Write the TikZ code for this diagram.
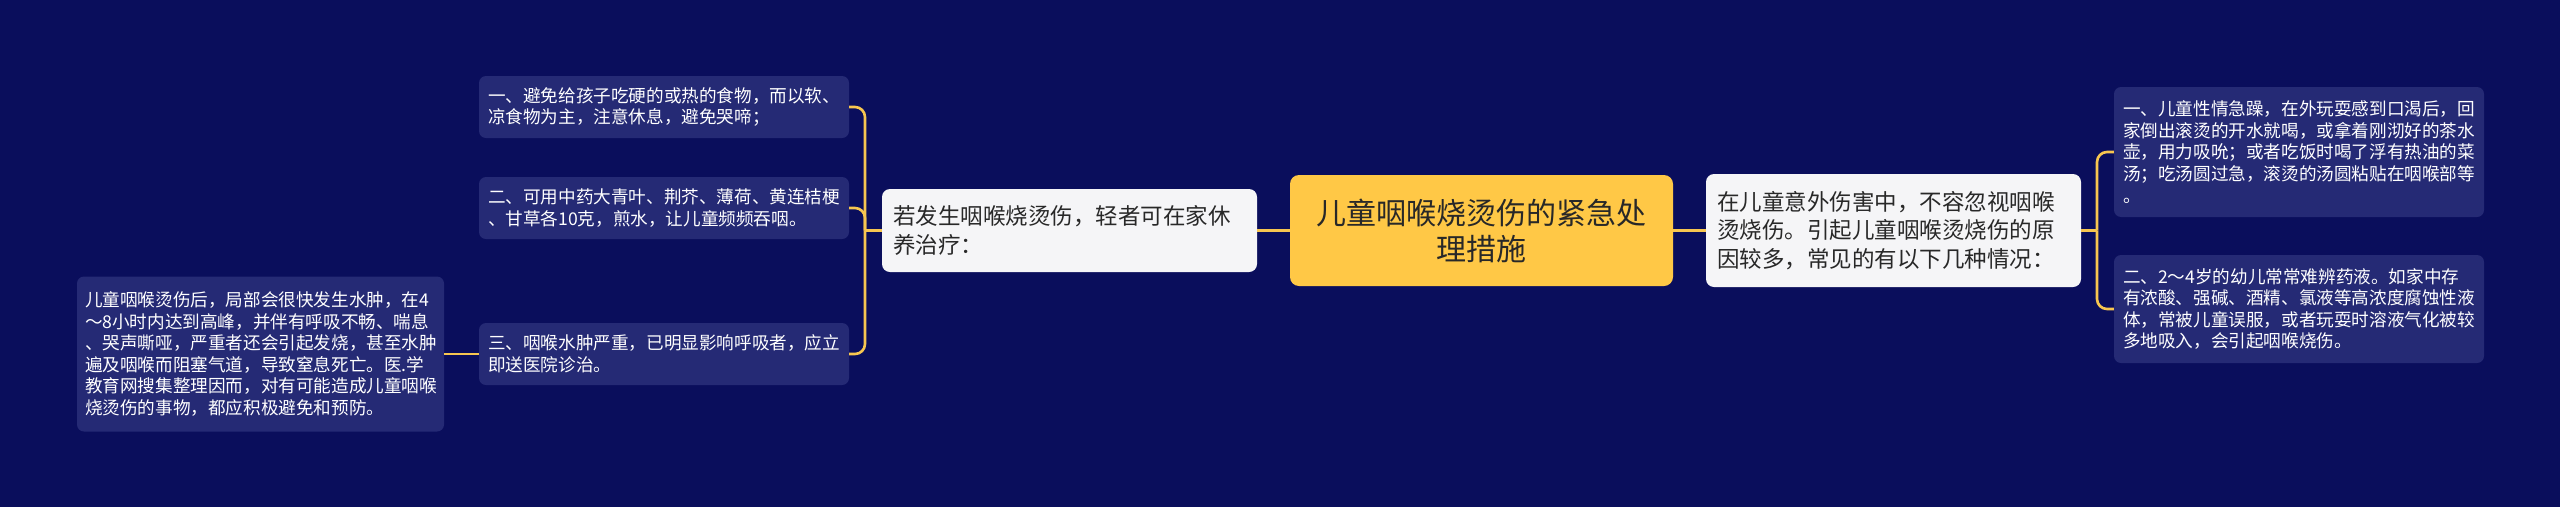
\documentclass[tikz,border=0pt]{standalone}
\usepackage{fontspec}
\newfontfamily\cjk{Noto Sans CJK SC}
\definecolor{bgc}{RGB}{10,14,92}
\definecolor{leaf}{RGB}{37,42,117}
\definecolor{gold}{RGB}{255,200,70}
\definecolor{linec}{RGB}{247,198,80}
\definecolor{light}{RGB}{245,245,247}
\definecolor{dark}{RGB}{40,40,40}
\tikzset{
  rootbox/.style={fill=gold, rounded corners=9pt, text=dark, align=center, minimum width=383pt, minimum height=111pt, inner sep=0pt, font=\cjk\fontsize{30}{36}\selectfont},
  midbox/.style={fill=light, rounded corners=8pt, text=dark, align=left, inner xsep=11pt, inner ysep=0pt, font=\cjk\fontsize{22.5}{28.5}\selectfont},
  leafbox/.style={fill=leaf, rounded corners=7pt, text=white, align=left, inner xsep=9pt, inner ysep=0pt, text width=352pt, font=\cjk\fontsize{17.6}{21.6}\selectfont},
  conn/.style={draw=linec, line width=2.6pt, rounded corners=10pt}
}
\begin{document}
\begin{tikzpicture}[x=1pt,y=-1pt]
\fill[bgc] (0,0) rectangle (2560,507);
\useasboundingbox (0,0) rectangle (2560,507);
\node[rootbox] (C) at (1481.5,230.5) {儿童咽喉烧烫伤的紧急处\\理措施};
\node[midbox, text width=353pt, minimum height=113pt] (RM) at (1893.5,230.5) {在儿童意外伤害中，不容忽视咽喉\\烫烧伤。引起儿童咽喉烫烧伤的原\\因较多，常见的有以下几种情况：};
\node[leafbox, minimum height=130pt] (R1) at (2299,152) {一、儿童性情急躁，在外玩耍感到口渴后，回\\家倒出滚烫的开水就喝，或拿着刚沏好的茶水\\壶，用力吸吮；或者吃饭时喝了浮有热油的菜\\汤；吃汤圆过急，滚烫的汤圆粘贴在咽喉部等\\。};
\node[leafbox, minimum height=108pt] (R2) at (2299,309) {二、2～4岁的幼儿常常难辨药液。如家中存\\有浓酸、强碱、酒精、氯液等高浓度腐蚀性液\\体，常被儿童误服，或者玩耍时溶液气化被较\\多地吸入，会引起咽喉烧伤。};
\node[midbox, text width=353pt, minimum height=83pt] (LM) at (1069.5,230.5) {若发生咽喉烧烫伤，轻者可在家休\\养治疗：};
\node[leafbox, minimum height=62pt] (L1) at (664,107) {一、避免给孩子吃硬的或热的食物，而以软、\\凉食物为主，注意休息，避免哭啼；};
\node[leafbox, minimum height=62pt] (L2) at (664,208) {二、可用中药大青叶、荆芥、薄荷、黄连桔梗\\、甘草各10克，煎水，让儿童频频吞咽。};
\node[leafbox, minimum height=62pt] (L3) at (664,354) {三、咽喉水肿严重，已明显影响呼吸者，应立\\即送医院诊治。};
\node[leafbox, text width=351pt, inner xsep=8pt, minimum height=155pt] (FL) at (260.5,354) {儿童咽喉烫伤后，局部会很快发生水肿，在4\\～8小时内达到高峰，并伴有呼吸不畅、喘息\\、哭声嘶哑，严重者还会引起发烧，甚至水肿\\遍及咽喉而阻塞气道，导致窒息死亡。医.学\\教育网搜集整理因而，对有可能造成儿童咽喉\\烧烫伤的事物，都应积极避免和预防。};
\coordinate (lbr) at (865,230.5);
\coordinate (rbr) at (2097,230.5);
\draw[conn] (C.east) -- (RM.west);
\draw[conn] (C.west) -- (LM.east);
\draw[conn] (RM.east) -- (rbr);
\draw[conn] (rbr) |- (R1.west);
\draw[conn] (rbr) |- (R2.west);
\draw[conn] (LM.west) -- (lbr);
\draw[conn] (lbr) |- (L1.east);
\draw[conn] (lbr) |- (L2.east);
\draw[conn] (lbr) |- (L3.east);
\draw[conn] (L3.west) -- (FL.east);
\end{tikzpicture}
\end{document}
